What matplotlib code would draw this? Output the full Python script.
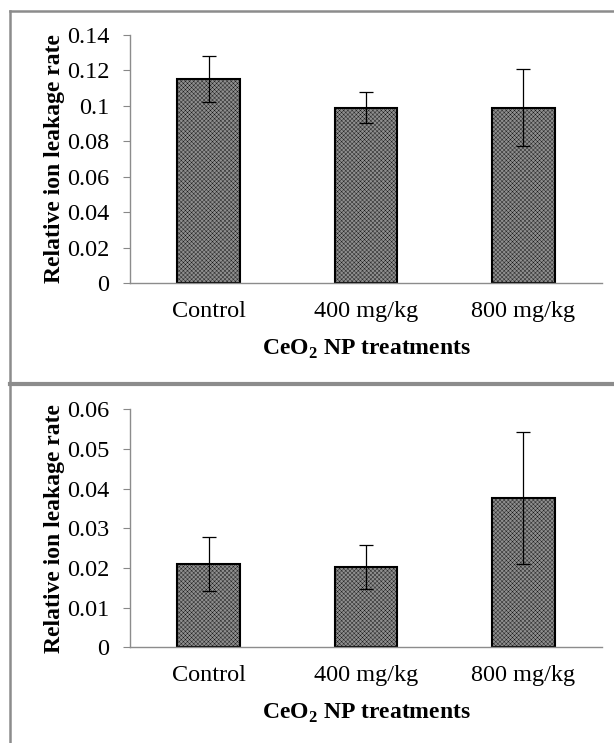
import matplotlib.pyplot as plt
from matplotlib.lines import Line2D

# dades
categories = ["Control", "400 mg/kg", "800 mg/kg"]

top_values = [0.115, 0.099, 0.099]
top_errors = [0.013, 0.0088, 0.0217]
top_ticks = [0, 0.02, 0.04, 0.06, 0.08, 0.1, 0.12, 0.14]
top_ticklabels = ["0", "0.02", "0.04", "0.06", "0.08", "0.1", "0.12", "0.14"]

bottom_values = [0.021, 0.0203, 0.0376]
bottom_errors = [0.0067, 0.0056, 0.0167]
bottom_ticks = [0, 0.01, 0.02, 0.03, 0.04, 0.05, 0.06]
bottom_ticklabels = ["0", "0.01", "0.02", "0.03", "0.04", "0.05", "0.06"]

plt.rcParams["font.family"] = ["Liberation Serif", "DejaVu Serif"]
plt.rcParams["mathtext.fontset"] = "custom"
plt.rcParams["mathtext.rm"] = "Liberation Serif"
plt.rcParams["mathtext.bf"] = "Liberation Serif:bold"
plt.rcParams["hatch.linewidth"] = 0.25
plt.rcParams["hatch.color"] = "#707070"

W, H = 614, 743
fig = plt.figure(figsize=(W / 100, H / 100), dpi=100)


def panel(rect, values, errors, ticks, ticklabels):
    ax = fig.add_axes(rect)
    x = [i + 0.5 for i in range(len(categories))]
    ax.bar(x, values, width=0.4, color="#8e8e8e", edgecolor="black",
           linewidth=1.5, hatch="xxxxxxxx", zorder=2)
    ax.errorbar(x, values, yerr=errors, fmt="none", ecolor="black",
                elinewidth=0.9, capsize=5, capthick=0.9, zorder=3)
    ax.set_xlim(0, 3)
    ax.set_ylim(0, ticks[-1])
    ax.set_yticks(ticks)
    ax.set_yticklabels(ticklabels, fontsize=17.5)
    ax.set_xticks(x)
    ax.set_xticklabels(categories, fontsize=17.5)
    ax.tick_params(axis="x", length=0, pad=13)
    ax.tick_params(axis="y", length=5, color="#888888", pad=10)
    for s in ["top", "right"]:
        ax.spines[s].set_visible(False)
    for s in ["left", "bottom"]:
        ax.spines[s].set_color("#8c8c8c")
        ax.spines[s].set_linewidth(1.0)
    ax.set_ylabel("Relative ion leakage rate", fontsize=17,
                  fontweight="bold", labelpad=1)
    ax.set_xlabel(r"CeO$_\mathbf{2}$ NP treatments", fontsize=17,
                  fontweight="bold", labelpad=11)
    return ax


panel([130 / W, 1 - 283 / H, 472 / W, 248 / H],
      top_values, top_errors, top_ticks, top_ticklabels)
panel([130 / W, 1 - 647.3 / H, 472 / W, 238 / H],
      bottom_values, bottom_errors, bottom_ticks, bottom_ticklabels)

# vores del requadre
grey = "#8c8c8c"
fig.add_artist(Line2D([10 / W, 10 / W], [0, 1 - 11 / H],
                      transform=fig.transFigure, color=grey, lw=1.8))
fig.add_artist(Line2D([10 / W, 1], [1 - 11 / H, 1 - 11 / H],
                      transform=fig.transFigure, color=grey, lw=1.8))
fig.add_artist(Line2D([10 / W, 1], [1 - 384 / H, 1 - 384 / H],
                      transform=fig.transFigure, color=grey, lw=3))

fig.savefig("out.png", dpi=100)
plt.close()
